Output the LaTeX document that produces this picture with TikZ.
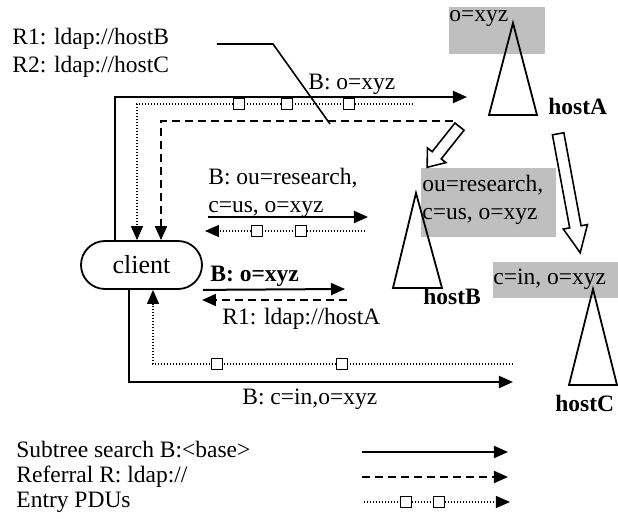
\documentclass[tikz,border=0pt]{standalone}
\usepackage{fontspec}
\setmainfont{Liberation Serif}
\usetikzlibrary{arrows.meta,positioning,shapes.arrows}

\begin{document}
\begin{tikzpicture}[x=0.5pt,y=-0.5pt,>={Triangle[length=7pt,width=6pt]},
                    font=\fontsize{11.75}{14}\selectfont]
  \tikzstyle{search}=[->,line width=1pt]
  \tikzstyle{referral}=[->,line width=1pt,dash pattern=on 4pt off 2.5pt]
  \tikzstyle{pdu}=[->,line width=0.6pt,dash pattern=on 0.6pt off 0.9pt]
  \tikzstyle{pdubox}=[draw,line width=0.8pt,fill=white,minimum size=5.5pt,inner sep=0pt]
  \tikzstyle{txt}=[inner sep=0pt,anchor=base west]
  \tikzstyle{lines}=[inner sep=0pt,anchor=north west,align=left]
  \tikzstyle{host}=[txt,font=\fontsize{11.75}{14}\selectfont\bfseries]
  \tikzstyle{tree}=[line width=0.9pt,line join=miter]
  \tikzstyle{ctx}=[fill=black!25]
  \tikzstyle{chase}=[draw,line width=0.8pt,fill=white,single arrow,inner xsep=0pt,
                     inner ysep=2.5pt,anchor=tail]

  \useasboundingbox (0,0) rectangle (618,519);

  % naming contexts and servers
  \fill[ctx] (449,7) rectangle (545,54);
  \fill[ctx] (421,168) rectangle (556,237);
  \fill[ctx] (493,262) rectangle (618,298);
  \node[txt] (ctxA) at (449,22) {o=xyz};
  \node[lines] (ctxB) at (422,175) {ou=research,\\c=us, o=xyz};
  \node[txt] (ctxC) at (493,285) {c=in, o=xyz};

  \coordinate (apexA) at (513,23);
  \coordinate (apexB) at (416,193);
  \coordinate (apexC) at (593,289);
  \draw[tree] (apexA) -- ++(-24,92) -- ++(48,0) -- cycle;
  \draw[tree] (apexB) -- ++(-23,95) -- ++(49,0) -- cycle;
  \draw[tree] (apexC) -- ++(-24,96) -- ++(48,0) -- cycle;
  \node[host] (hostA) at (548,115) {hostA};
  \node[host] (hostB) at (423,305) {hostB};
  \node[host] (hostC) at (555,412) {hostC};

  \node[chase,rotate=231.5,minimum height=26pt,single arrow head extend=3pt,
        single arrow tip angle=75] (chaseB) at (460,126) {};
  \node[chase,rotate=280.5,minimum height=60.5pt,single arrow head extend=3.25pt,
        single arrow tip angle=50] (chaseC) at (558,133) {};

  % client and operations
  \node[draw,line width=0.9pt,rounded corners=12pt,minimum width=60.5pt,
        minimum height=24pt,inner sep=0pt,font=\fontsize{13}{15}\selectfont] (client) at (141.5,265) {client};

  \node[lines] (refs) at (12,28) {R1: ldap://hostB\\R2: ldap://hostC};
  \coordinate (leadS) at (217,44);
  \coordinate (leadE) at (330,124);
  \draw[line width=0.8pt] (leadS) -- (273,44) -- (leadE);

  \coordinate (toA) at (467,97);
  \coordinate (pduA) at (413,104);
  \coordinate (refA) at (453,121);
  \draw[search] ([xshift=-13.25pt]client.north) |- (toA);
  \draw[pdu] (pduA) -| ([xshift=-2.25pt]client.north);
  \draw[referral] (refA) -| ([xshift=9.75pt]client.north);
  \node[pdubox] (a1) at (239,104) {};
  \node[pdubox] (a2) at (287,104) {};
  \node[pdubox] (a3) at (349,104) {};
  \node[txt] (lblA) at (308,90) {B: o=xyz};

  \coordinate (sB) at (208,217);
  \coordinate (toB) at (368,217);
  \coordinate (pduB) at (365,231);
  \coordinate (eB) at (205,231);
  \draw[search] (sB) -- (toB);
  \draw[pdu] (pduB) -- (eB);
  \node[pdubox] (b1) at (257,231) {};
  \node[pdubox] (b2) at (301,231) {};
  \node[lines] (lblB) at (208,168) {B: ou=research,\\c=us, o=xyz};

  \coordinate (toA2) at (345,289);
  \coordinate (refB) at (347,300);
  \coordinate (eR) at (202,300);
  \draw[search] (client.south east) -- (toA2);
  \draw[referral] (refB) -- (eR);
  \node[txt,font=\fontsize{11.75}{14}\selectfont\bfseries] (lblA2) at (210,282) {B: o=xyz};
  \node[txt] (lblR) at (222,325) {R1: ldap://hostA};

  \coordinate (toC) at (513,382);
  \coordinate (pduC) at (513,364);
  \draw[search] ([xshift=-6.25pt]client.south) |- (toC);
  \draw[pdu] (pduC) -| ([xshift=5.75pt]client.south);
  \node[pdubox] (c1) at (217,364) {};
  \node[pdubox] (c2) at (342,364) {};
  \node[txt] (lblC) at (242,405) {B: c=in,o=xyz};

  % legend
  \node[txt] (lgS) at (16,458) {Subtree search B:<base>};
  \node[txt] (lgR) at (16,483) {Referral R: ldap://};
  \node[txt] (lgE) at (16,508) {Entry PDUs};
  \coordinate (lgS1) at (362,452);
  \coordinate (lgS2) at (508,452);
  \coordinate (lgR1) at (362,477);
  \coordinate (lgR2) at (508,477);
  \coordinate (lgE1) at (364,502);
  \coordinate (lgE2) at (510,502);
  \draw[search] (lgS1) -- (lgS2);
  \draw[referral] (lgR1) -- (lgR2);
  \draw[pdu] (lgE1) -- (lgE2);
  \node[pdubox] (e1) at (406,502) {};
  \node[pdubox] (e2) at (439,502) {};
\end{tikzpicture}
\end{document}
